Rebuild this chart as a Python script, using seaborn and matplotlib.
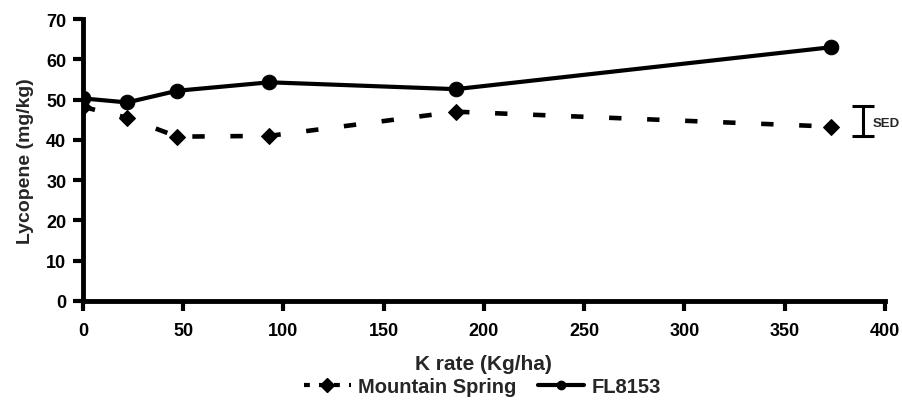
import numpy as np
import pandas as pd
import matplotlib
matplotlib.use("Agg")
import matplotlib.pyplot as plt
import seaborn as sns
from matplotlib.lines import Line2D

k_rate = [0, 22, 47, 93, 186, 373]
mountain_spring = [48.2, 45.5, 40.8, 41.0, 47.0, 43.3]
fl8153 = [50.3, 49.3, 52.2, 54.3, 52.6, 63.0]
sed_center = 44.7
sed_value = 7.6
x_ticks = [0, 50, 100, 150, 200, 250, 300, 350, 400]
y_ticks = [0, 10, 20, 30, 40, 50, 60, 70]

sns.set_theme(style="ticks")
plt.rcParams['font.family'] = ['Liberation Sans', 'DejaVu Sans']
plt.rcParams['font.weight'] = 'bold'

df = pd.DataFrame({
    "K rate": k_rate * 2,
    "Lycopene": mountain_spring + fl8153,
    "Cultivar": ["Mountain Spring"] * len(k_rate) + ["FL8153"] * len(k_rate),
})

fig = plt.figure(figsize=(9.02, 4.02), dpi=100)
ax = fig.add_axes([0.092, 0.249, 0.889, 0.701])

sns.lineplot(data=df[df.Cultivar == "Mountain Spring"], x="K rate", y="Lycopene",
             ax=ax, color="black", lw=3.3, marker="D", markersize=8.5,
             markeredgecolor="black", legend=False, estimator=None, zorder=2)
ax.lines[-1].set_linestyle((0, (2.7, 5.6)))
sns.lineplot(data=df[df.Cultivar == "FL8153"], x="K rate", y="Lycopene",
             ax=ax, color="black", lw=3.0, marker="o", markersize=10.5,
             markeredgecolor="black", legend=False, estimator=None, zorder=3)

# SED bar
ax.errorbar([389], [sed_center], yerr=[sed_value / 2], fmt="none", ecolor="black",
            elinewidth=2.2, capsize=8, capthick=2.2, clip_on=False)
ax.text(394, sed_center - 0.5, "SED", fontsize=9.5, fontweight="bold", va="center",
        ha="left", clip_on=False)

ax.set_xlim(0, 400)
ax.set_ylim(0, 70)
ax.set_xticks(x_ticks)
ax.set_yticks(y_ticks)
ax.tick_params(axis="both", direction="out", width=3, length=7, labelsize=13,
               colors="black")
ax.tick_params(axis="x", pad=8)
ax.tick_params(axis="y", pad=5)
for lab in ax.get_xticklabels() + ax.get_yticklabels():
    lab.set_fontweight("bold")
for s in ["top", "right"]:
    ax.spines[s].set_visible(False)
for s in ["left", "bottom"]:
    ax.spines[s].set_linewidth(3.5)
    ax.spines[s].set_color("black")
    ax.spines[s].set_zorder(1)

ax.set_xlabel("K rate (Kg/ha)", fontsize=15, fontweight="bold", labelpad=11)
ax.set_ylabel("Lycopene (mg/kg)", fontsize=14, fontweight="bold", labelpad=9)

handles = [
    Line2D([0], [0], color="black", lw=3, ls=(0, (1.4, 2.2)), marker="D", markersize=7),
    Line2D([0], [0], color="black", lw=3, marker="o", markersize=6),
]
fig.legend(handles, ["Mountain Spring", "FL8153"], loc="lower center",
           bbox_to_anchor=(0.535, -0.033), ncol=2, frameon=False,
           prop={"weight": "bold", "size": 14.5}, handlelength=2.3,
           columnspacing=1.1, handletextpad=0.35)

fig.savefig("out.png", dpi=100, facecolor="white")
